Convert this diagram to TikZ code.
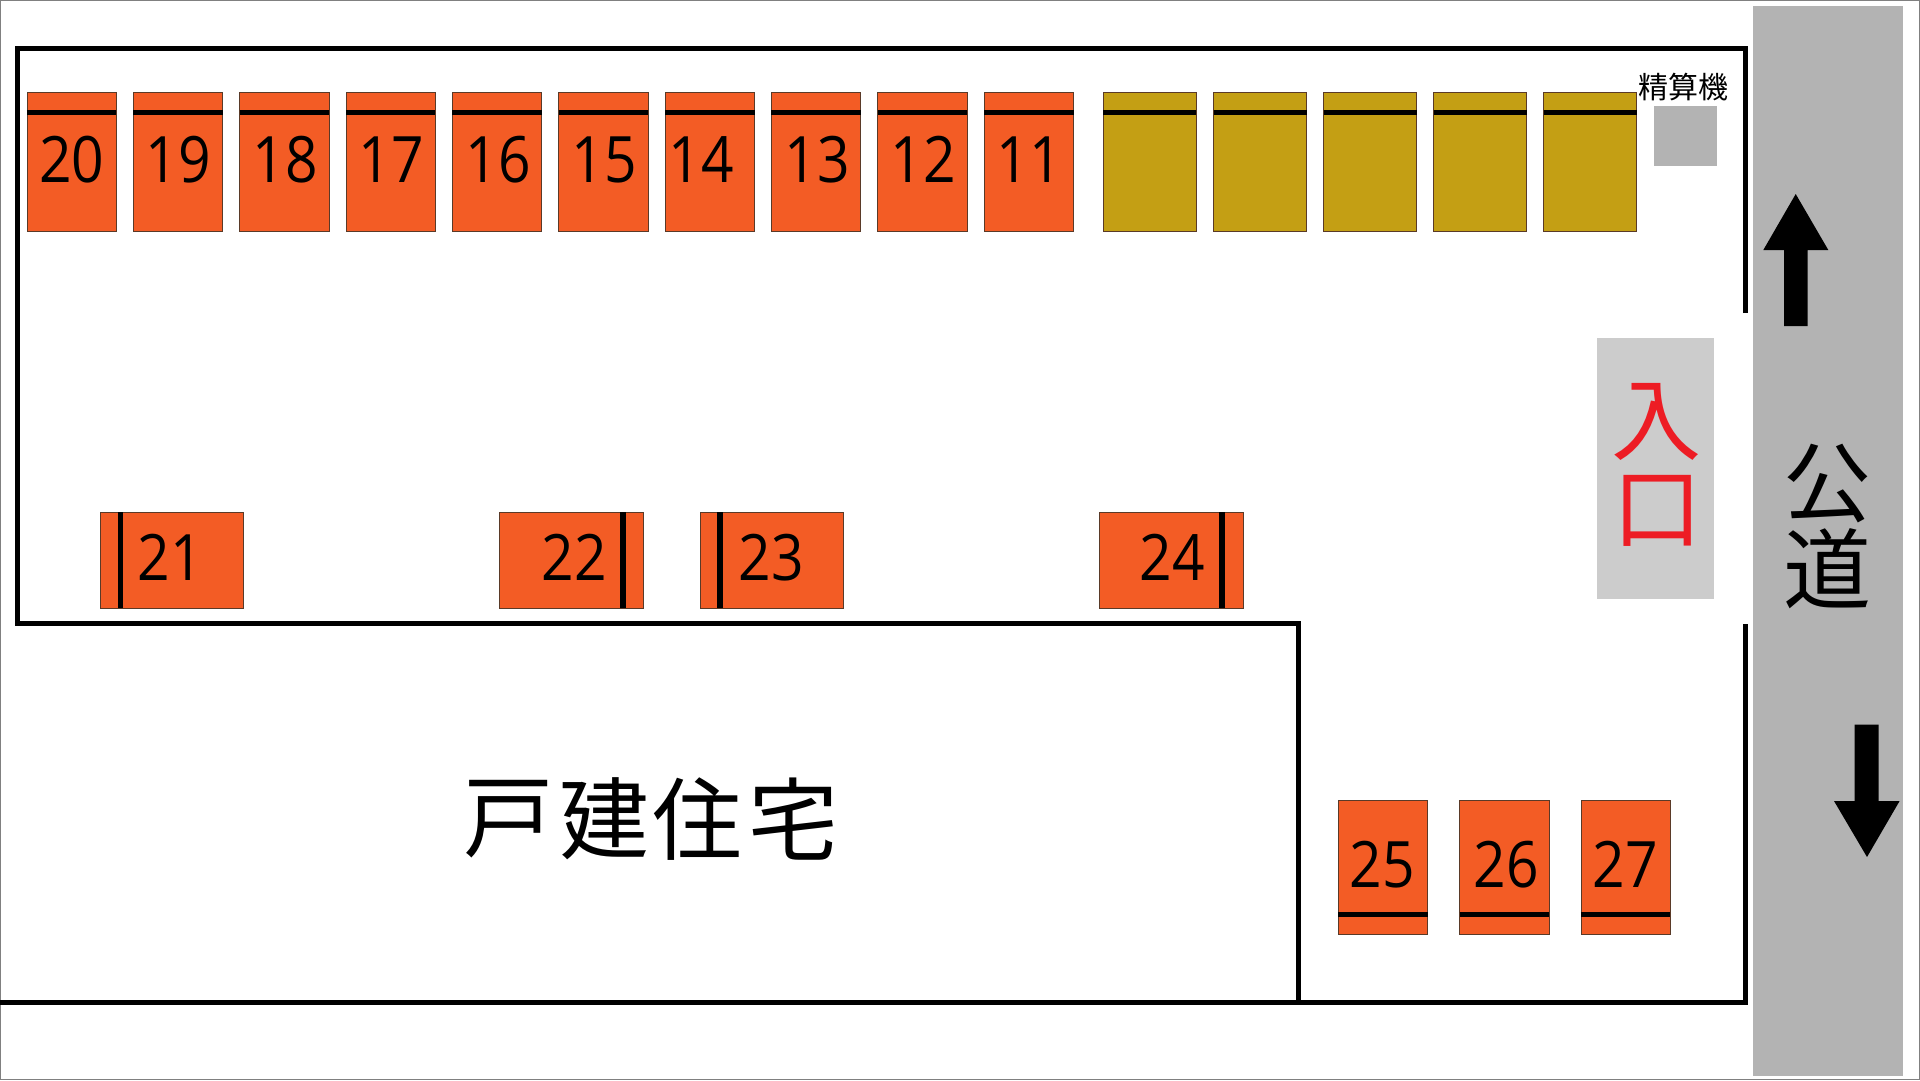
\documentclass[tikz,border=0pt]{standalone}
\usepackage{fontspec}
\newfontfamily\numfont[FakeStretch=0.89]{Open Sans}
\newfontfamily\jpfont{Noto Sans CJK JP}
\definecolor{spotorange}{HTML}{F35C25}
\definecolor{spotolive}{HTML}{C49F14}
\definecolor{roadgrey}{HTML}{B3B3B3}
\definecolor{entrygrey}{HTML}{CCCCCC}
\definecolor{entryred}{HTML}{ED1C24}
\definecolor{framegrey}{HTML}{808080}
\definecolor{spotedge}{HTML}{5A3A28}
\tikzset{
  spotbase/.style={rectangle,draw=spotedge,line width=0.9pt,inner sep=0pt,outer sep=0pt},
  orangev/.style={spotbase,fill=spotorange,minimum width=89.5pt,minimum height=138.5pt},
  olivev/.style={spotbase,fill=spotolive,minimum width=93pt,minimum height=138.5pt},
  orangeh/.style={spotbase,fill=spotorange,minimum width=143.5pt,minimum height=96pt},
  orangel/.style={spotbase,fill=spotorange,minimum width=89.5pt,minimum height=134.5pt},
  barline/.style={line width=5.4pt,black},
  wall/.style={line width=5pt,black,miter limit=10},
  num/.style={inner sep=0pt,outer sep=0pt,font=\numfont\fontsize{64}{64}\selectfont},
  bigjp/.style={inner sep=0pt,outer sep=0pt,font=\jpfont\fontsize{88}{88}\selectfont},
  entryjp/.style={inner sep=0pt,outer sep=0pt,text=entryred,font=\jpfont\fontsize{90}{90}\selectfont},
  housejp/.style={inner sep=0pt,outer sep=0pt,font=\jpfont\fontsize{90}{90}\selectfont},
  roadarrow/.style={fill=black,draw=none},
}
\begin{document}
\begin{tikzpicture}[x=1pt,y=-1pt]
\useasboundingbox (0,0) rectangle (1920,1080);
\draw[framegrey,line width=1.5pt] (0.7,0.7) rectangle (1919.3,1079.3);
% road
\node[fill=roadgrey,inner sep=0pt,minimum width=150pt,minimum height=1070pt] (road) at (1828.3,541) {};
% walls
\coordinate (wa) at (1745,313);
\coordinate (wb) at (1745,48);
\coordinate (wc) at (17.7,48);
\coordinate (wd) at (17.7,623.5);
\coordinate (we) at (1298,623.5);
\coordinate (wf) at (1298,1002);
\coordinate (wg) at (0,1002);
\coordinate (wh) at (1745,1002);
\coordinate (wi) at (1745,624);
\draw[wall] (wa) -- (wb) -- (wc) -- (wd) -- (we) -- (wf);
\draw[wall] (wg) -- (wh) -- (wi);
% top row orange
\foreach \n/\cx/\tx in {20/71.7/71.7,19/178/178.5,18/284.4/285,17/390.7/391,16/497/498,15/603.4/604,14/709.8/701,13/816.1/817,12/922.5/923,11/1028.8/1029}{
  \node[orangev] (s\n) at (\cx,161.8) {};
  \draw[barline] ([yshift=49.3pt]s\n.west) -- ([yshift=49.3pt]s\n.east);
  \node[num] (t\n) at (\tx,159.7) {\n};
}
% olive row
\foreach \i/\cx in {1/1149.8,2/1260,3/1370,4/1480,5/1590}{
  \node[olivev] (o\i) at (\cx,161.8) {};
  \draw[barline] ([yshift=49.3pt]o\i.west) -- ([yshift=49.3pt]o\i.east);
}
% lower row
\foreach \n/\cx/\bx/\tx in {21/171.7/120.3/170.5,22/571.3/623/574.5,23/771.8/720/771,24/1171.3/1222/1172}{
  \node[orangeh] (s\n) at (\cx,560.3) {};
  \coordinate (b\n) at (\bx,560.3);
  \draw[barline] (b\n |- s\n.north) -- (b\n |- s\n.south);
  \node[num] (t\n) at (\tx,557.5) {\n};
}
% right group
\foreach \n/\cx/\tx in {25/1383.1/1382.5,26/1504.3/1506.5,27/1625.7/1625}{
  \node[orangel] (s\n) at (\cx,867.5) {};
  \draw[barline] ([yshift=-46.8pt]s\n.west) -- ([yshift=-46.8pt]s\n.east);
  \node[num] (t\n) at (\tx,864.7) {\n};
}
% pay machine
\node[fill=roadgrey,inner sep=0pt,minimum width=63pt,minimum height=60pt] (pay) at (1685.2,136) {};
\node[inner sep=0pt,font=\jpfont\fontsize{30}{30}\selectfont] (paylabel) at (1683,87) {精算機};
% entrance
\node[fill=entrygrey,inner sep=0pt,minimum width=117.3pt,minimum height=261pt] (entry) at (1655.3,468.2) {};
\node[entryjp] (entry1) at (1656,422) {入};
\node[entryjp] (entry2) at (1657,510.5) {口};
% road text
\node[bigjp] (road1) at (1827,484) {公};
\node[bigjp] (road2) at (1827,569) {道};
% house
\node[housejp] (h1) at (508,819) {戸};
\node[housejp] (h2) at (604,819) {建};
\node[housejp] (h3) at (697,819) {住};
\node[housejp] (h4) at (793,819) {宅};
% arrows
\fill[roadarrow] (1795.7,194) -- (1828.3,250) -- (1807.7,250) -- (1807.7,326) -- (1784,326) -- (1784,250) -- (1763.3,250) -- cycle;
\fill[roadarrow] (1867,857) -- (1899.6,801) -- (1878.5,801) -- (1878.5,724.7) -- (1854.5,724.7) -- (1854.5,801) -- (1834,801) -- cycle;
\end{tikzpicture}
\end{document}
